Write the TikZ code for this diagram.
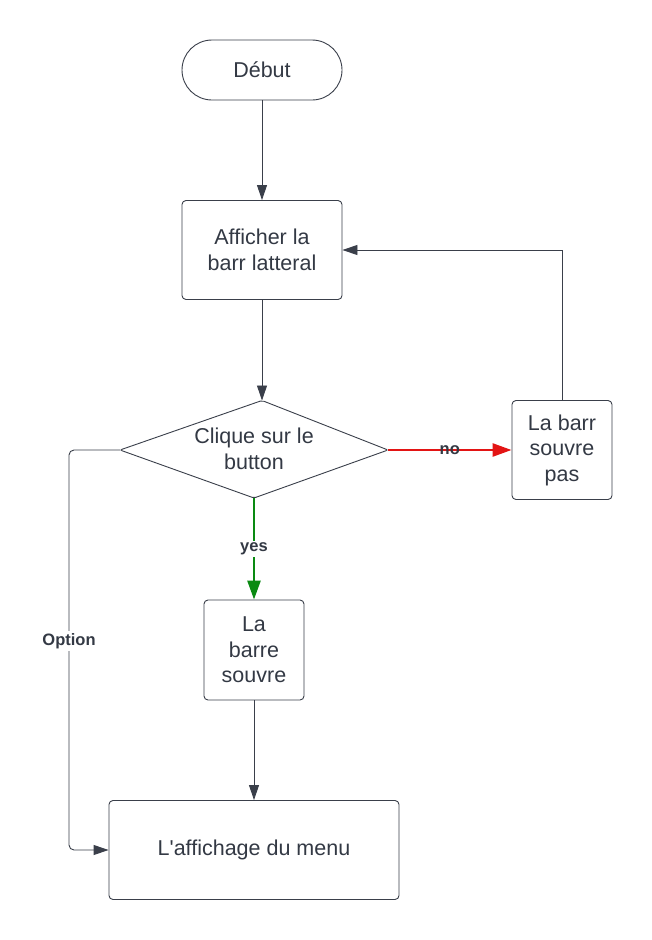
\documentclass[tikz,border=0pt]{standalone}
\usepackage{fontspec}
\setmainfont{Liberation Sans}
\usetikzlibrary{arrows.meta}
\definecolor{ink}{HTML}{3A3F4A}
\definecolor{txt}{HTML}{333944}
\definecolor{nored}{HTML}{E31414}
\definecolor{yesgreen}{HTML}{0A8A12}
\tikzset{
  box/.style={draw=ink, line width=0.9pt, rounded corners=4pt, fill=white, text=txt,
    align=center, font=\fontsize{21.5}{25.5}\selectfont, inner sep=0pt},
  arr/.style={draw=ink, line width=0.9pt, -{Triangle[length=15pt,width=10pt]}},
  colarr/.style={line width=2.6pt, -{Triangle[length=19pt,width=13pt]}},
  lbl/.style={font=\bfseries\fontsize{16.5}{18}\selectfont, text=txt, inner sep=2pt}
}
\begin{document}
\begin{tikzpicture}[x=1pt,y=-1pt]
\useasboundingbox[fill=white] (0,0) rectangle (652,940);
% nodes
\node[box, rounded corners=30pt, minimum width=160pt, minimum height=60pt] (debut) at (262,70) {Début};
\node[box, minimum width=160pt, minimum height=99pt] (aff) at (262,250) {Afficher la\\barr latteral};
\coordinate (dT) at (262,400.5);
\coordinate (dL) at (120,450);
\coordinate (dR) at (388,450);
\coordinate (dB) at (254,498);
\draw[ink, line width=0.9pt, fill=white, rounded corners=2pt] (dT) -- (dR) -- (dB) -- (dL) -- cycle;
\node[text=txt, align=center, font=\fontsize{21.5}{25.5}\selectfont, inner sep=0pt] (dtext) at (254,449) {Clique sur le\\button};
\node[box, minimum width=100pt, minimum height=99pt] (pas) at (562,450) {La barr\\souvre\\pas};
\node[box, minimum width=100pt, minimum height=100pt] (souvre) at (254,650) {La\\barre\\souvre};
\node[box, minimum width=290pt, minimum height=99pt] (menu) at (254,850) {L\textquotesingle affichage du menu};
\coordinate (c1) at (69,450);
% connectors
\draw[arr] (debut.south) -- (aff.north);
\draw[arr] (aff.south) -- (dT);
\draw[colarr, nored] (dR) -- (pas.west) node[lbl, pos=0.5] (no) {no};
\draw[colarr, yesgreen] (dB) -- (souvre.north) node[lbl, pos=0.5, fill=white] (yes) {yes};
\draw[arr] (souvre.south) -- (menu.north);
\draw[arr] (pas.north) |- (aff.east);
\draw[arr, rounded corners=5pt] (dL) -- (c1) |- (menu.west);
\node[lbl, fill=white] (opt) at (69,641) {Option};
\end{tikzpicture}
\end{document}
